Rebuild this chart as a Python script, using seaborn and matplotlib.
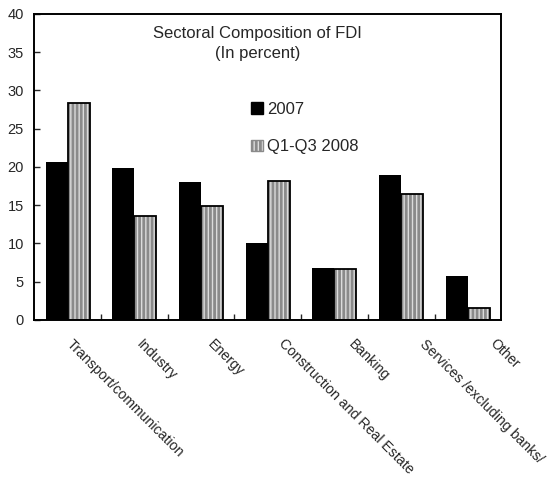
"""Sectoral composition of FDI, 2007 vs Q1-Q3 2008."""

import matplotlib
matplotlib.use('Agg')
import matplotlib.pyplot as plt
from matplotlib.patches import Rectangle, Patch
from matplotlib.transforms import ScaledTranslation
import pandas as pd
import seaborn as sns

sectors = ['Transport/communication', 'Industry', 'Energy',
           'Construction and Real Estate', 'Banking',
           'Services /excluding banks/', 'Other']
share_2007 = [20.7, 19.8, 18.0, 10.0, 6.8, 19.0, 5.7]
share_2008 = [28.3, 13.6, 14.9, 18.2, 6.6, 16.5, 1.6]
series = ['2007', 'Q1-Q3 2008']

STRIPE_FACE = '#dcdcdc'
STRIPE_LINE = '#8a8a8a'

df = pd.DataFrame({
    'sector': sectors * 2,
    'value': share_2007 + share_2008,
    'series': [series[0]] * len(sectors) + [series[1]] * len(sectors),
})

sns.set_style('white')
plt.rcParams['font.family'] = ['Liberation Sans', 'DejaVu Sans']
plt.rcParams['hatch.linewidth'] = 2.0

fig = plt.figure(figsize=(5.52, 4.79), dpi=100)
ax = fig.add_axes([0.062, 0.332, 0.846, 0.639])

sns.barplot(data=df, x='sector', y='value', hue='series', order=sectors,
            hue_order=series, palette=['black', STRIPE_FACE], width=0.66,
            edgecolor='black', linewidth=0, legend=False, ax=ax)

# striped bars: gray hatch, then a black outline on top
n = len(sectors)
for p in ax.patches[n:2 * n]:
    p.set_edgecolor(STRIPE_LINE)
    p.set_hatch('||||')
    ax.add_patch(Rectangle((p.get_x(), p.get_y()), p.get_width(), p.get_height(),
                           fill=False, edgecolor='black', linewidth=1.3, zorder=3))

ax.set_xlim(-0.5, n - 0.5)
ax.set_ylim(0, 40)
ax.set_yticks(range(0, 41, 5))
ax.set_xticks([i + 0.5 for i in range(n - 1)])
ax.set_xticklabels([])
ax.tick_params(axis='x', direction='in', length=4, width=1, bottom=True)
ax.tick_params(axis='y', direction='in', length=4, width=1, left=True,
               labelsize=10.5, pad=7.5)
ax.set_xlabel('')
ax.set_ylabel('')

# category labels hang down to the right; they drift right a little more
# with each group, as in the original
for i, name in enumerate(sectors):
    off = ScaledTranslation((4 + 2.9 * i) / 72, -12 / 72, fig.dpi_scale_trans)
    ax.text(i, 0, name, transform=ax.get_xaxis_transform() + off,
            rotation=-45, rotation_mode='anchor', ha='left', va='top',
            fontsize=10.2)

for s in ax.spines.values():
    s.set_visible(True)
    s.set_color('black')
    s.set_linewidth(1.4)

ax.text(0.478, 0.962, 'Sectoral Composition of FDI\n(In percent)', transform=ax.transAxes,
        ha='center', va='top', fontsize=12, linespacing=1.45)

handles = [
    Patch(facecolor='black', edgecolor='black', label=series[0]),
    Patch(facecolor=STRIPE_FACE, edgecolor=STRIPE_LINE, hatch='||||', label=series[1]),
]
ax.legend(handles=handles, loc='upper left', bbox_to_anchor=(0.45, 0.735),
          frameon=False, fontsize=12, handlelength=0.7, handleheight=0.7,
          handletextpad=0.25, labelspacing=1.35, borderaxespad=0)

fig.savefig('out.png', dpi=100)
